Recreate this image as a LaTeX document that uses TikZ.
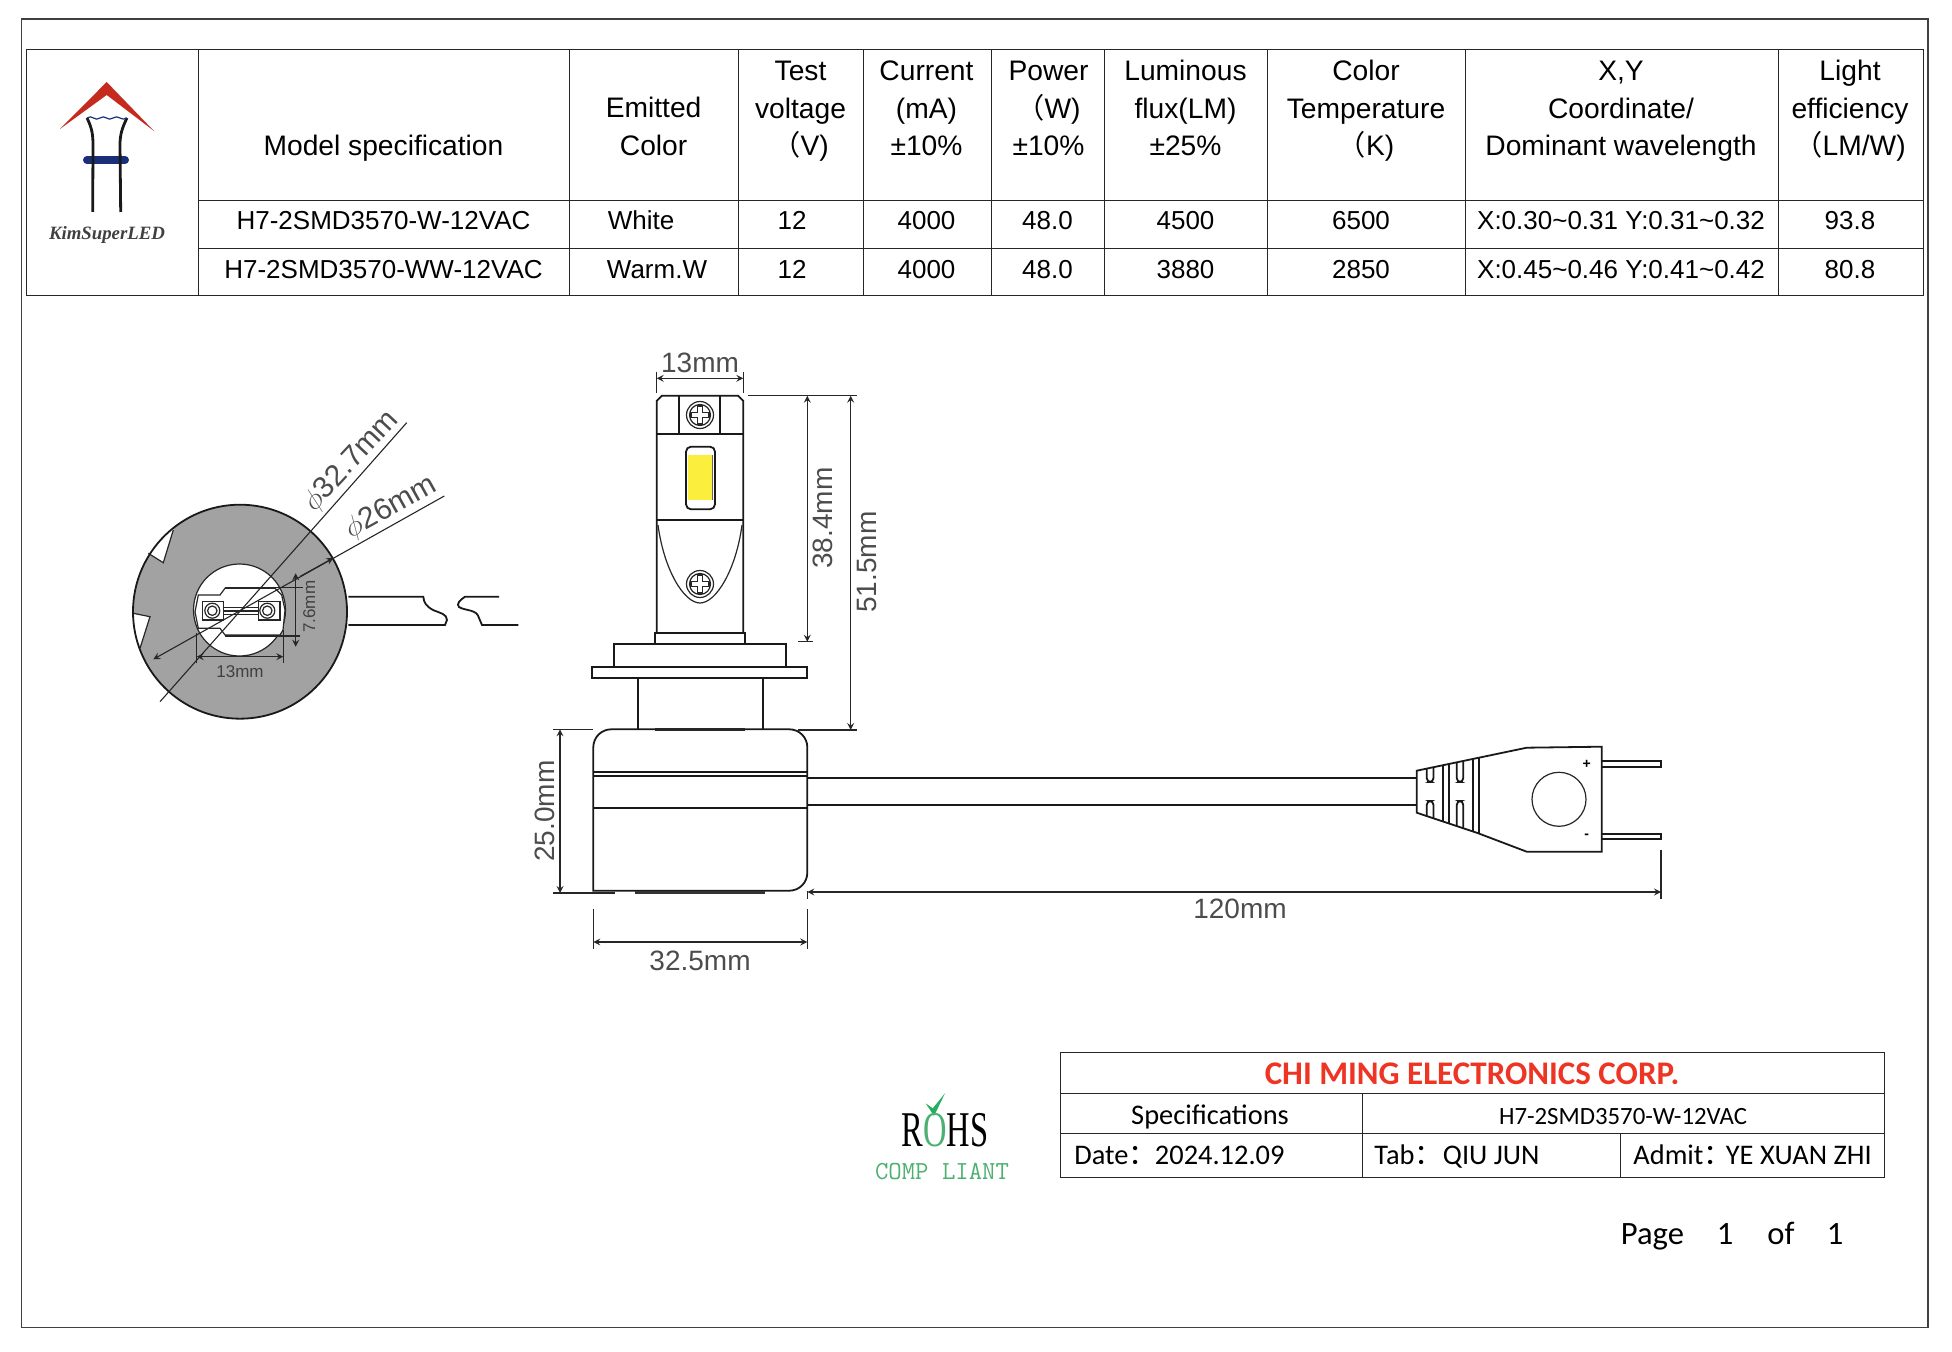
\documentclass[tikz,border=0pt]{standalone}
\usepackage{fontspec}
\setmainfont{Liberation Sans}
\newfontfamily\serifface{Liberation Serif}
\newfontfamily\calibface{Carlito}
\newfontfamily\cjk{Noto Sans CJK SC}
\newcommand{\lpar}{{\cjk （}}
\newcommand{\wcolon}{{\cjk ：}}
\definecolor{lampred}{HTML}{C62A1E}
\definecolor{lampblue}{HTML}{1B2E78}
\definecolor{capgray}{HTML}{A2A2A2}
\definecolor{chipyellow}{HTML}{FBEE3C}
\definecolor{corpred}{HTML}{EE3524}
\definecolor{rohsgreen}{HTML}{4CB070}
\definecolor{tickgreen}{HTML}{27AE60}
\tikzset{
  frameline/.style={draw=black!75,line width=0.7pt},
  tabline/.style={draw=black!85,line width=0.5pt},
  cadline/.style={draw=black!90,line width=0.9pt},
  thinline/.style={draw=black!85,line width=0.6pt},
  dimline/.style={draw=black!85,line width=0.55pt},
  headtext/.style={font=\fontsize{14.1}{18.75}\selectfont,align=center,inner sep=0pt},
  celltext/.style={font=\fontsize{13}{16}\selectfont,inner sep=0pt},
  foottext/.style={font=\calibface\fontsize{14.2}{17}\selectfont,inner sep=0pt},
  pagetext/.style={font=\calibface\fontsize{16.3}{19}\selectfont,inner sep=0pt,anchor=base},
  dimtext/.style={font=\fontsize{14}{16}\selectfont,text=black!70,inner sep=0pt},
  smalltext/.style={font=\fontsize{8.5}{10}\selectfont,text=black!75,inner sep=0pt},
}
\begin{document}
\begin{tikzpicture}[x=0.5pt,y=-0.5pt,>=stealth]
\useasboundingbox (0,0) rectangle (1952,1352);
\draw[frameline] (21.7,19) rectangle (1928,1327.5);
% spec table
\draw[tabline] (26.7,49.7) rectangle (1923.5,295.7);
\draw[tabline] (198.7,200.5)--(1923.5,200.5) (198.7,248.7)--(1923.5,248.7);
\foreach \cx in {198.7,569,738,863,991,1104,1267,1465,1778}{
\draw[tabline] (\cx,49.7)--(\cx,295.7);
}
\node[headtext] (hmodel) at (383.5,148.5) {\strut Model specification};
\node[headtext] (hcolor) at (653.6,129) {\strut Emitted\\\strut Color};
\node[headtext] (hvolt) at (800.5,111) {\strut Test\\\strut voltage\\\strut\lpar V)};
\node[headtext] (hcurr) at (926.5,111) {\strut Current\\\strut (mA)\\\strut ±10\%};
\node[headtext] (hpower) at (1048.5,111) {\strut Power\\\strut\lpar W)\\\strut ±10\%};
\node[headtext] (hflux) at (1185.5,111) {\strut Luminous\\\strut flux(LM)\\\strut ±25\%};
\node[headtext] (htemp) at (1366,111) {\strut Color\\\strut Temperature\\\strut\lpar K)};
\node[headtext] (hcoord) at (1621,111) {\strut X,Y\\\strut Coordinate/\\\strut Dominant wavelength};
\node[headtext] (heff) at (1850,111) {\strut Light\\\strut efficiency\\\strut\lpar LM/W)};
\foreach \nm/\cx/\wtxt/\atxt in {model/383.5/H7-2SMD3570-W-12VAC/H7-2SMD3570-WW-12VAC,volt/792/12/12,curr/926.5/4000/4000,power/1047.5/48.0/48.0,flux/1185.5/4500/3880,temp/1361/6500/2850,coord/1621/X:0.30\string~0.31 Y:0.31\string~0.32/X:0.45\string~0.46 Y:0.41\string~0.42,eff/1850/93.8/80.8}{
\node[celltext] (w\nm) at (\cx,220.7) {\wtxt};
\node[celltext] (a\nm) at (\cx,269.7) {\atxt};
}
\node[celltext] (wcolor) at (641,220.7) {White};
\node[celltext] (acolor) at (657,269.7) {Warm.W};
% logo
\fill[lampred] (106.7,82)--(154,131)--(106.7,95)--(60,129)--cycle;
\draw[lampblue,line width=4pt,line cap=round] (87,160)--(125,160);
\draw[line width=1.4pt,black!90] (87,118) .. controls (92,128) and (93,135) .. (93,145)--(92.7,212);
\draw[line width=1.4pt,black!90] (127,118) .. controls (122,128) and (120,135) .. (120,145)--(120.7,212);
\draw[lampblue,line width=0.6pt] (87,118) .. controls (92,114) and (95,122) .. (100,118) .. controls (105,114) and (108,122) .. (113,118) .. controls (118,114) and (122,122) .. (127,118);
\node[font=\serifface\bfseries\itshape\fontsize{9.4}{11}\selectfont,text=black!75,inner sep=0pt] (brand) at (107,235) {KimSuperLED};
% end view
\fill[capgray] (240,611.7) circle (107);
\begin{scope}
\clip (240,611.7) circle (107);
\fill[white] (125,540)--(148.3,553.3)--(163.3,562.7)--(173.3,530)--(180,505)--cycle;
\fill[white] (125,612)--(133.3,613.3)--(150,616.7)--(140,648.3)--(132,672)--(120,660)--cycle;
\end{scope}
\draw[thinline] (148.3,553.3)--(163.3,562.7)--(173.3,530) (133.3,613.3)--(150,616.7)--(140,648.3);
\draw[cadline] (240,611.7) circle (107);
\draw[thinline,fill=white] (239.5,610) circle (46);
% lamp cap plate
\draw[thinline,fill=white] (198.3,595)--(220,595)--(225,588.3)--(275,588.3)--(281.7,595)--(285,610)--(283,630)--(280,635)--(225,635)--(220,628.3)--(198.3,628.3)--(195,612)--cycle;
\draw[thinline] (202.7,601.7) rectangle (223.3,620) (258.3,601.7) rectangle (280,620);
\foreach \px in {212.3,267.3}{
\draw[thinline] (\px,610.7) circle (7.5) (\px,610.7) circle (4.7);
}
\draw[thinline] (223.3,607.7)--(258.3,607.7) (223.3,614.3)--(258.3,614.3);
\draw[line width=1.2pt,black!85] (223.3,611)--(258.3,611);
% end view cable
\draw[cadline] (348.3,596.7)--(423.3,596.7) .. controls (424,603) and (426,606) .. (433,610) .. controls (440,613) and (447,614) .. (447,620)--(445,625)--(348.3,625);
\draw[cadline] (499,596.7)--(465,596.7) .. controls (460,600) and (456,604) .. (459,607) .. controls (465,611) and (477,609) .. (479,618)--(482,625)--(518.3,625);
% end view dimensions
\draw[dimline] (160,701.7)--(406.7,422.7);
\draw[dimline,<-] (153.3,659.3)--(444.3,496);
\draw[dimline,->] (300,576.5)--(333.3,558);
\draw[dimline,<->] (196.7,656.7)--(283.3,656.7);
\draw[dimline] (196.7,633)--(196.7,663) (283.3,630)--(283.3,663);
\draw[dimline,<->] (295.7,573.3)--(295.7,646.7);
\draw[dimline] (225,587.3)--(303,587.3) (225,636)--(300,636);
\node[dimtext,font=\fontsize{15}{17}\selectfont,rotate=47] (dia_cap) at (351.5,461.5) {$\phi$32.7mm};
\node[dimtext,font=\fontsize{15}{17}\selectfont,rotate=29] (dia_in) at (391,508) {$\phi$26mm};
\node[smalltext,rotate=90] (tab_h) at (309.3,606.7) {7.6mm};
\node[smalltext] (tab_w) at (240,671.7) {13mm};
% side view, LED head
\draw[cadline] (656.7,632.7)--(656.7,401)--(662,395.7)--(738,395.7)--(743.3,401)--(743.3,632.7);
\draw[cadline] (656.7,434.3)--(743.3,434.3) (679.3,395.7)--(679.3,434.3) (720,395.7)--(720,434.3);
\draw[cadline] (656.7,520)--(743.3,520);
\draw[thinline] (658,525) .. controls (664,570) and (684,603) .. (700,603) .. controls (716,603) and (736,570) .. (742,525);
\foreach \sname/\sy in {screwtop/415,screwlow/584}{
\coordinate (\sname) at (700,\sy);
\draw[thinline,fill=white] (\sname) circle (13.5);
\draw[thinline] (\sname) circle (10.5);
\draw[thinline] (697.5,\sy-9)--(702.5,\sy-9)--(702.5,\sy-2.5)--(709,\sy-2.5)--(709,\sy+2.5)--(702.5,\sy+2.5)--(702.5,\sy+9)--(697.5,\sy+9)--(697.5,\sy+2.5)--(691,\sy+2.5)--(691,\sy-2.5)--(697.5,\sy-2.5)--cycle;
}
\draw[cadline,rounded corners=2.5pt] (686,446.7) rectangle (715,509.3);
\fill[chipyellow] (688.3,455.3) rectangle (712.7,500);
\draw[black!60,line width=0.5pt] (712.7,455.3)--(712.7,500);
% collar, flange, stem
\draw[cadline] (655,644)--(655,632.7)--(744.7,632.7)--(744.7,644);
\draw[cadline] (613.7,667.3)--(613.7,644)--(786,644)--(786,667.3);
\draw[cadline] (591.7,667.3) rectangle (807.3,678.3);
\draw[cadline] (637.7,678.3)--(637.7,729.3) (763.3,678.3)--(763.3,729.3);
% driver body
\draw[cadline] (593.3,890.7) [rounded corners=9pt] --(593.3,729.3)--(807.3,729.3)--(807.3,890.7) [sharp corners] --cycle;
\draw[line width=1.2pt,black!85] (655,729.3)--(745,729.3);
\draw[cadline] (593.3,772.3)--(807.3,772.3) (593.3,776)--(807.3,776) (593.3,808)--(807.3,808);
\fill[black!80] (635,890.7) rectangle (765,893.7);
% wire and plug
\draw[cadline] (807.3,778.3)--(1416.7,778.3) (807.3,805.3)--(1416.7,805.3);
\draw[cadline] (1416.7,770.7)--(1526.7,747.7)--(1601.7,746.7)--(1601.7,851.7)--(1526.7,851.7)--(1478.3,833.3)--(1416.7,812.7)--cycle;
\draw[cadline] (1601.7,760.7)--(1661,760.7)--(1661,766.7)--(1601.7,766.7);
\draw[cadline] (1601.7,834)--(1661,834)--(1661,839.3)--(1601.7,839.3);
\draw[thinline] (1559,799.3) circle (27);
\foreach \rx/\rt/\rb in {1442.7/765.3/821.3,1449.3/764/823.7,1472.7/758.7/831.5,1478.7/757.5/833.5}{
\draw[cadline] (\rx,\rt)--(\rx,\rb);
}
\foreach \xa/\xb/\ta/\tb/\ba/\bb in {1426.7/1433.5/768.7/767/816/818.5,1456.7/1463.3/762/760.7/826/828.3}{
\draw[cadline,rounded corners=2pt] (\xa,\ta)--(\xa,782)--(\xb,782)--(\xb,\tb);
\draw[cadline,rounded corners=2pt] (\xa,\ba)--(\xa,801)--(\xb,801)--(\xb,\bb);
}
\node[font=\bfseries\fontsize{7}{8}\selectfont,inner sep=0pt] (plus) at (1586.7,764.3) {+};
\node[font=\bfseries\fontsize{7}{8}\selectfont,inner sep=0pt] (minus) at (1586.7,836.7) {-};
% side view dimensions
\draw[dimline,<->] (656.7,378.3)--(743.3,378.3);
\draw[dimline] (656.7,371.7)--(656.7,393.3) (743.3,371.7)--(743.3,393.3);
\draw[dimline] (748.3,395.7)--(856.7,395.7) (798.3,641.7)--(813.3,641.7) (798.3,730)--(856.7,730);
\draw[dimline,<->] (807.3,395.7)--(807.3,641.7);
\draw[dimline,<->] (850.7,395.7)--(850.7,730);
\draw[dimline] (553.3,729.3)--(593.3,729.3) (553.3,893)--(615,893);
\draw[dimline,<->] (560,729.3)--(560,893);
\draw[dimline] (593.3,909.3)--(593.3,949) (807.3,909.3)--(807.3,949);
\draw[dimline,<->] (593.3,942)--(807.3,942);
\draw[dimline,<->] (807.3,892)--(1661,892);
\draw[dimline] (807.3,890.7)--(807.3,899) (1661,850)--(1661,899);
\node[dimtext] (d_head) at (700,363) {13mm};
\node[dimtext,rotate=90] (d_led) at (823,518) {38.4mm};
\node[dimtext,rotate=90] (d_total) at (867,562) {51.5mm};
\node[dimtext,rotate=90] (d_body) at (545,811) {25.0mm};
\node[dimtext] (d_width) at (700,961) {32.5mm};
\node[dimtext] (d_wire) at (1240,909) {120mm};
% RoHS mark
\fill[tickgreen] (925.7,1103.3)--(932.7,1108.3)--(945,1093.3)--(934,1116)--cycle;
\node[font=\serifface\fontsize{25}{28}\selectfont,anchor=base,inner sep=0pt] (rohs) at (945,1146) {\scalebox{0.65}[1]{R\textcolor{rohsgreen}{O}HS}};
\node[font=\ttfamily\fontsize{13}{15}\selectfont,text=rohsgreen,inner sep=0pt] (rohstext) at (942,1172) {COMP LIANT};
% title block
\draw[tabline] (1060.7,1052.2) rectangle (1884,1177.3);
\draw[tabline] (1060.7,1093.8)--(1884,1093.8) (1060.7,1133)--(1884,1133);
\draw[tabline] (1362,1093.8)--(1362,1177.3) (1620.7,1133)--(1620.7,1177.3);
\node[foottext,font=\calibface\bfseries\fontsize{16.5}{19}\selectfont,text=corpred,anchor=base] (corp) at (1472,1084) {CHI MING ELECTRONICS CORP.};
\node[foottext,anchor=base] (spec) at (1210,1124) {Specifications};
\node[foottext,font=\calibface\fontsize{12.4}{15}\selectfont,anchor=base] (specval) at (1623,1124) {H7-2SMD3570-W-12VAC};
\node[foottext,anchor=base west] (date) at (1074,1164) {Date\wcolon\hspace{-1pt}2024.12.09};
\node[foottext,anchor=base west] (tab) at (1374,1164) {Tab\wcolon QIU JUN};
\node[foottext,anchor=base west] (admit) at (1633,1164) {Admit\wcolon\hspace{-3pt}YE XUAN ZHI};
\node[pagetext,anchor=base west] (page) at (1620.5,1244.5) {Page};
\node[pagetext] (pageno) at (1725,1244.5) {1};
\node[pagetext] (pageof) at (1781,1244.5) {of};
\node[pagetext] (pagetot) at (1835,1244.5) {1};
\end{tikzpicture}
\end{document}
